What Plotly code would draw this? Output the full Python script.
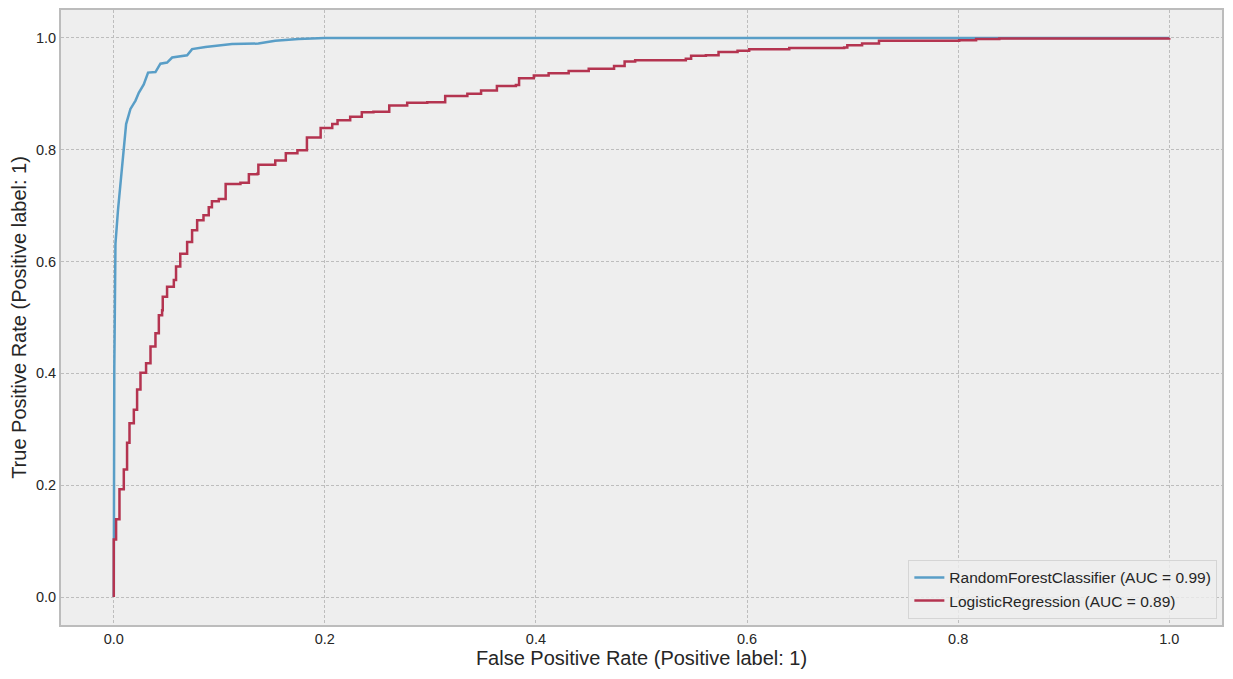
import plotly.graph_objects as go

# ROC points
rf_fpr = [0.0, 0.0, 0.0005, 0.001, 0.0016, 0.004, 0.0063, 0.0079, 0.0095, 0.0117,
          0.0158, 0.0206, 0.0237, 0.0284, 0.0325, 0.0395, 0.0442, 0.0505, 0.0553, 0.0695,
          0.0742, 0.0869, 0.112, 0.137, 0.153, 0.175, 0.2, 1.0]
rf_tpr = [0.0, 0.30, 0.41, 0.51, 0.632, 0.692, 0.739, 0.781, 0.81, 0.846,
          0.873, 0.888, 0.902, 0.917, 0.938, 0.939, 0.954, 0.956, 0.965, 0.969,
          0.98, 0.984, 0.989, 0.99, 0.995, 0.998, 1.0, 1.0]

lr_fpr = [0.0, 0.0, 0.0022, 0.0054, 0.0095, 0.0126, 0.0149, 0.019, 0.0221, 0.0253,
          0.0306, 0.0348, 0.0395, 0.0427, 0.0458, 0.0464, 0.0505, 0.0569, 0.059, 0.063,
          0.0695, 0.0742, 0.079, 0.085, 0.090, 0.093, 0.0995, 0.106, 0.120, 0.128,
          0.136, 0.137, 0.153, 0.163, 0.174, 0.183, 0.196, 0.207, 0.212, 0.224,
          0.235, 0.246, 0.261, 0.278, 0.297, 0.314, 0.335, 0.348, 0.362, 0.363,
          0.381, 0.384, 0.398, 0.412, 0.431, 0.450, 0.474, 0.484, 0.494, 0.526,
          0.542, 0.547, 0.561, 0.573, 0.591, 0.602, 0.640, 0.692, 0.695, 0.709,
          0.725, 0.801, 0.817, 0.839, 1.0]
lr_tpr = [0.0, 0.103, 0.139, 0.193, 0.228, 0.276, 0.311, 0.335, 0.371, 0.401,
          0.418, 0.448, 0.472, 0.504, 0.513, 0.537, 0.555, 0.567, 0.591, 0.614,
          0.635, 0.656, 0.674, 0.683, 0.697, 0.708, 0.712, 0.739, 0.741, 0.756,
          0.757, 0.773, 0.781, 0.794, 0.799, 0.822, 0.839, 0.846, 0.853, 0.859,
          0.867, 0.868, 0.879, 0.884, 0.885, 0.896, 0.900, 0.906, 0.906, 0.914,
          0.916, 0.928, 0.933, 0.937, 0.941, 0.945, 0.950, 0.958, 0.960, 0.960,
          0.963, 0.968, 0.969, 0.975, 0.977, 0.980, 0.982, 0.983, 0.987, 0.990,
          0.995, 0.996, 0.998, 0.999, 1.0]

names = ["RandomForestClassifier (AUC = 0.99)", "LogisticRegression (AUC = 0.89)"]
ticks = [0.0, 0.2, 0.4, 0.6, 0.8, 1.0]
tick_text = ["0.0", "0.2", "0.4", "0.6", "0.8", "1.0"]

fig = go.Figure()
fig.add_trace(go.Scatter(x=rf_fpr, y=rf_tpr, mode="lines", name=names[0],
                         line=dict(color="#599EC7", width=2.5)))
fig.add_trace(go.Scatter(x=lr_fpr, y=lr_tpr, mode="lines", name=names[1], line_shape="hv",
                         line=dict(color="#B43450", width=2.5)))

axis_style = dict(range=[-0.05, 1.05], tickvals=ticks, ticktext=tick_text, automargin=False,
                  showgrid=True, gridcolor="#bdbdbd", griddash="3px,2px", gridwidth=0.8,
                  zeroline=False, showline=True, mirror=True, linecolor="#bcbcbc", linewidth=1.8,
                  ticks="", tickfont=dict(size=14.5, color="#262626"))

fig.update_xaxes(**axis_style, title=dict(text="False Positive Rate (Positive label: 1)",
                                          font=dict(size=20, color="#262626"), standoff=4))
fig.update_yaxes(**axis_style, title=dict(text="True Positive Rate (Positive label: 1)",
                                          font=dict(size=20, color="#262626"), standoff=4))

# the page puts the figure 8px in from the top-left corner, so margins are shifted
fig.update_layout(
    width=1233, height=679,
    margin=dict(l=53, r=19, t=2, b=62),
    paper_bgcolor="white", plot_bgcolor="#eeeeee",
    font=dict(family="Liberation Sans, Arial", color="#262626"),
    legend=dict(x=0.996, y=0.01, xanchor="right", yanchor="bottom",
                bgcolor="rgba(238,238,238,0.8)", bordercolor="#d5d5d5", borderwidth=1,
                font=dict(size=15.5), tracegroupgap=0, itemwidth=30),
    showlegend=True,
)

fig.write_html("out.html")
